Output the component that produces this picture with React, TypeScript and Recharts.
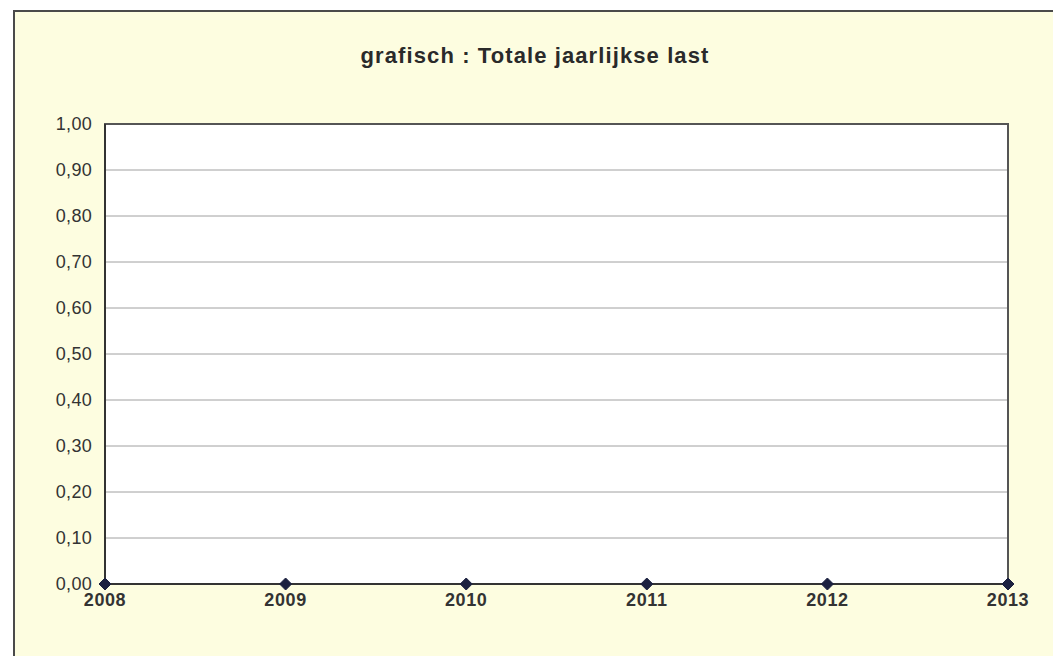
import React from 'react';
import { LineChart, Line, XAxis, YAxis, CartesianGrid, ReferenceArea } from 'recharts';

const years = ['2008', '2009', '2010', '2011', '2012', '2013'];
const totaleLast = [0, 0, 0, 0, 0, 0];
const yTicks = [0, 0.1, 0.2, 0.3, 0.4, 0.5, 0.6, 0.7, 0.8, 0.9, 1.0];
const title = 'grafisch : Totale jaarlijkse last';

const data = years.map((y, i) => ({ year: y, last: totaleLast[i] }));

const Diamond = (props: any) => {
  const { cx, cy } = props;
  if (cx == null || cy == null) return null;
  const r = 6;
  return (
    <path
      d={`M${cx},${cy - r} L${cx + r},${cy} L${cx},${cy + r} L${cx - r},${cy} Z`}
      fill="#1c2140"
      stroke="#1c2140"
    />
  );
};

export default function App() {
  return (
    <div style={{ position: 'absolute', left: 0, top: 0, width: 1053, height: 656, background: '#ffffff', overflow: 'hidden', fontFamily: '"Liberation Sans", Arial, sans-serif' }}>
      <div style={{ position: 'absolute', left: 13, top: 10, width: 1060, height: 660, background: '#fdfde0', border: '2px solid #4a4a4a', boxSizing: 'border-box' }} />
      <div style={{ position: 'absolute', left: 0, top: 43, width: 1070, textAlign: 'center', fontSize: 22, fontWeight: 'bold', color: '#2a2a2a', letterSpacing: 1.1 }}>
        {title}
      </div>
      <div style={{ position: 'absolute', left: 0, top: 0 }}>
        <LineChart width={1053} height={656} data={data} margin={{ top: 124, right: 45, bottom: 42, left: 0 }}>
          <CartesianGrid vertical={false} stroke="#a0a0a0" fill="#ffffff" fillOpacity={1} />
          <XAxis
            dataKey="year"
            height={30}
            axisLine={{ stroke: '#333', strokeWidth: 2 }}
            tickLine={false}
            tickSize={0}
            tickMargin={9}
            interval={0}
            tick={{ fill: '#333', fontSize: 18, fontWeight: 'bold', letterSpacing: 0.6 }}
          />
          <YAxis
            width={105}
            domain={[0, 1]}
            ticks={yTicks}
            axisLine={{ stroke: '#333', strokeWidth: 2 }}
            tickLine={false}
            tickSize={0}
            tickMargin={13}
            tickFormatter={(v: number) => v.toFixed(2).replace('.', ',')}
            tick={{ fill: '#333', fontSize: 18, letterSpacing: 0.3 }}
          />
          <ReferenceArea x1="2008" x2="2013" y1={0} y2={1} fill="none" stroke="#555" strokeWidth={2} ifOverflow="visible" />
          <Line
            type="linear"
            dataKey="last"
            stroke="#1c2140"
            strokeWidth={2}
            dot={<Diamond />}
            isAnimationActive={false}
          />
        </LineChart>
      </div>
    </div>
  );
}
